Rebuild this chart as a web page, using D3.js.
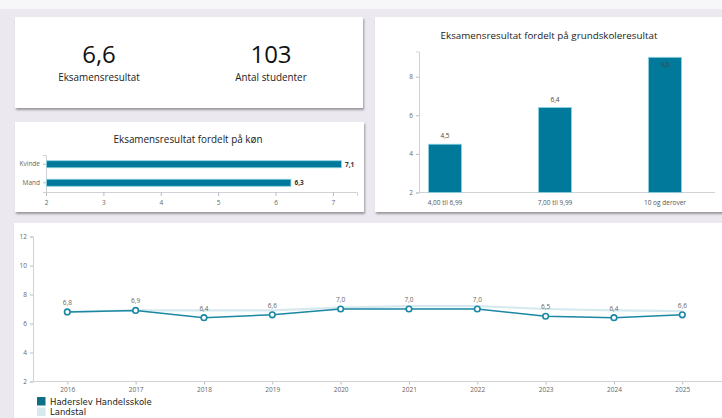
<!DOCTYPE html>
<html><head><meta charset="utf-8">
<script src="https://cdn.jsdelivr.net/npm/d3@7"></script>
<style>
html,body{margin:0;padding:0;}
body{width:722px;height:418px;background:#ece8f0;position:relative;overflow:hidden;font-family:"Open Sans","DejaVu Sans",sans-serif;}
.panel{position:absolute;background:#fff;box-shadow:1px 2px 2px rgba(0,0,0,0.35);}
svg{position:absolute;left:0;top:0;}
</style></head><body>
<div style="position:absolute;left:0;top:0;width:722px;height:9px;background:#f7f6f9"></div>
<div class="panel" style="left:15px;top:17px;width:348px;height:91px"></div>
<div class="panel" style="left:15px;top:122px;width:349px;height:90px"></div>
<div class="panel" style="left:375px;top:17px;width:360px;height:195px"></div>
<div class="panel" style="left:14px;top:223px;width:720px;height:210px"></div>
<svg id="c" width="722" height="418"></svg>
<script>
const kpiValues = ["6,6", "103"];
const kpiLabels = ["Eksamensresultat", "Antal studenter"];

const genderCats = ["Kvinde", "Mand"];
const genderVals = [7.14, 6.26];
const genderTicks = [2, 3, 4, 5, 6, 7];

const gradeCats = ["4,00 til 6,99", "7,00 til 9,99", "10 og derover"];
const gradeVals = [4.5, 6.4, 9.0];
const gradeTicks = [2, 4, 6, 8];

const years = ["2016","2017","2018","2019","2020","2021","2022","2023","2024","2025"];
const schoolVals = [6.8, 6.9, 6.4, 6.6, 7.0, 7.0, 7.0, 6.5, 6.4, 6.6];
const nationalVals = [6.8, 6.9, 6.9, 6.9, 7.1, 7.2, 7.2, 7.0, 6.9, 6.85];
const lineTicks = [2, 4, 6, 8, 10, 12];
const legendNames = ["Haderslev Handelsskole", "Landstal"];

const teal = "#00799a", lineCol = "#1a87a3", natCol = "#d6e9ef";
const fmt = v => d3.format(".1f")(v).replace(".", ",");
const svg = d3.select("#c");
const FONT = "Open Sans, DejaVu Sans, sans-serif";

// KPI panel
const kx = [99, 271];
kpiValues.forEach((v,i)=>{
  svg.append("text").attr("x",kx[i]).attr("y",63).attr("text-anchor","middle")
    .attr("font-size",24).attr("fill","#111").attr("font-family",FONT).text(v);
  svg.append("text").attr("x",kx[i]).attr("y",81).attr("text-anchor","middle")
    .attr("font-size",9.9).attr("fill","#222").attr("font-family",FONT).text(kpiLabels[i]);
});

function styleAxis(g){
  g.selectAll("path.domain").attr("stroke","#cfd3d8");
  g.selectAll(".tick line").attr("stroke","#b8bcc2");
  g.selectAll(".tick text").attr("fill","#666").attr("font-size",6.5).attr("font-family",FONT);
}

// Gender chart
{
  svg.append("text").attr("x",188).attr("y",143).attr("text-anchor","middle")
    .attr("font-size",9.9).attr("fill","#222").attr("font-family",FONT)
    .text("Eksamensresultat fordelt på køn");
  const x = d3.scaleLinear().domain([2, 7.42]).range([46, 357]);
  const y = d3.scaleBand().domain(genderCats).range([155, 192]).paddingInner(0.62).paddingOuter(0.31);
  const gx = svg.append("g").attr("transform","translate(0,192)")
    .call(d3.axisBottom(x).tickValues(genderTicks).tickSize(4).tickFormat(d3.format("d")));
  styleAxis(gx); gx.selectAll(".tick text").attr("dy","0.9em");
  const gy = svg.append("g").attr("transform","translate(46,0)")
    .call(d3.axisLeft(y).tickSize(3));
  styleAxis(gy);
  svg.selectAll(".gbar").data(genderVals).join("rect").attr("class","gbar")
    .attr("x",x(2)+0.5).attr("y",(d,i)=>y(genderCats[i]))
    .attr("width",d=>x(d)-x(2)).attr("height",y.bandwidth())
    .attr("fill",teal).attr("stroke","#8fd3e3").attr("stroke-width",0.8);
  svg.selectAll(".glab").data(genderVals).join("text").attr("class","glab")
    .attr("x",d=>x(d)+4).attr("y",(d,i)=>y(genderCats[i])+y.bandwidth()/2+2.5)
    .attr("font-size",6.5).attr("font-weight","bold").attr("fill","#333").attr("font-family",FONT)
    .text(d=>fmt(d));
}

// Grade chart
{
  svg.append("text").attr("x",549).attr("y",39).attr("text-anchor","middle")
    .attr("font-size",9.8).attr("fill","#222").attr("font-family",FONT)
    .text("Eksamensresultat fordelt på grundskoleresultat");
  const y = d3.scaleLinear().domain([2, 9.3]).range([192.5, 51.5]);
  const x = d3.scaleBand().domain(gradeCats).range([390, 720]).paddingInner(0.7).paddingOuter(0.35);
  const gy = svg.append("g").attr("transform","translate(419,0)")
    .call(d3.axisLeft(y).tickValues(gradeTicks).tickSize(3).tickFormat(d3.format("d")));
  styleAxis(gy);
  svg.append("line").attr("x1",419).attr("x2",715).attr("y1",192.5).attr("y2",192.5).attr("stroke","#cfd3d8");
  svg.selectAll(".xlab3").data(gradeCats).join("text").attr("class","xlab3")
    .attr("x",d=>x(d)+x.bandwidth()/2).attr("y",205).attr("text-anchor","middle")
    .attr("font-size",6.5).attr("fill","#555").attr("font-family",FONT).text(d=>d);
  svg.selectAll(".bbar").data(gradeVals).join("rect").attr("class","bbar")
    .attr("x",(d,i)=>x(gradeCats[i])).attr("y",d=>y(d))
    .attr("width",x.bandwidth()).attr("height",d=>y(2)-y(d))
    .attr("fill",teal).attr("stroke","#8fd3e3").attr("stroke-width",0.8);
  svg.selectAll(".blab").data(gradeVals).join("text").attr("class","blab")
    .attr("x",(d,i)=>x(gradeCats[i])+x.bandwidth()/2)
    .attr("y",d=> y(d) < 70 ? y(d)+10 : y(d)-6)
    .attr("text-anchor","middle").attr("font-size",6.5).attr("fill","#444").attr("font-family",FONT)
    .text(d=>fmt(d));
}

// Line chart
{
  const y = d3.scaleLinear().domain([2, 12]).range([381.5, 236.5]);
  const x = d3.scalePoint().domain(years).range([67.3, 682.3]);
  const gy = svg.append("g").attr("transform","translate(33,0)")
    .call(d3.axisLeft(y).tickValues(lineTicks).tickSize(3).tickFormat(d3.format("d")));
  styleAxis(gy);
  const gx = svg.append("g").attr("transform","translate(0,381.5)")
    .call(d3.axisBottom(x).tickSize(3));
  styleAxis(gx);
  gx.select("path.domain").remove();
  svg.append("line").attr("x1",33).attr("x2",722).attr("y1",381.5).attr("y2",381.5).attr("stroke","#cfd3d8");
  const line = d3.line().x((d,i)=>x(years[i])).y(d=>y(d));
  svg.append("path").datum(nationalVals).attr("d",line).attr("fill","none")
    .attr("stroke",natCol).attr("stroke-width",2.2);
  svg.append("path").datum(schoolVals).attr("d",line).attr("fill","none")
    .attr("stroke",lineCol).attr("stroke-width",1.5);
  svg.selectAll(".pt").data(schoolVals).join("circle").attr("class","pt")
    .attr("cx",(d,i)=>x(years[i])).attr("cy",d=>y(d)).attr("r",2.8)
    .attr("fill","#fff").attr("stroke",lineCol).attr("stroke-width",1.6);
  svg.selectAll(".plab").data(schoolVals).join("text").attr("class","plab")
    .attr("x",(d,i)=>x(years[i])).attr("y",d=>y(d)-7)
    .attr("text-anchor","middle").attr("font-size",6.5).attr("fill","#666").attr("font-family",FONT)
    .text(d=>fmt(d));
  // legend
  const lc = ["#0e6f87", natCol];
  legendNames.forEach((n,i)=>{
    svg.append("rect").attr("x",37).attr("y",397+i*10.5).attr("width",8.5).attr("height",8.5).attr("fill",lc[i]);
    svg.append("text").attr("x",50).attr("y",404.5+i*10.5).attr("font-size",8.5).attr("fill","#222")
      .attr("font-family","DejaVu Sans, sans-serif").text(n);
  });
}
</script>
</body></html>
